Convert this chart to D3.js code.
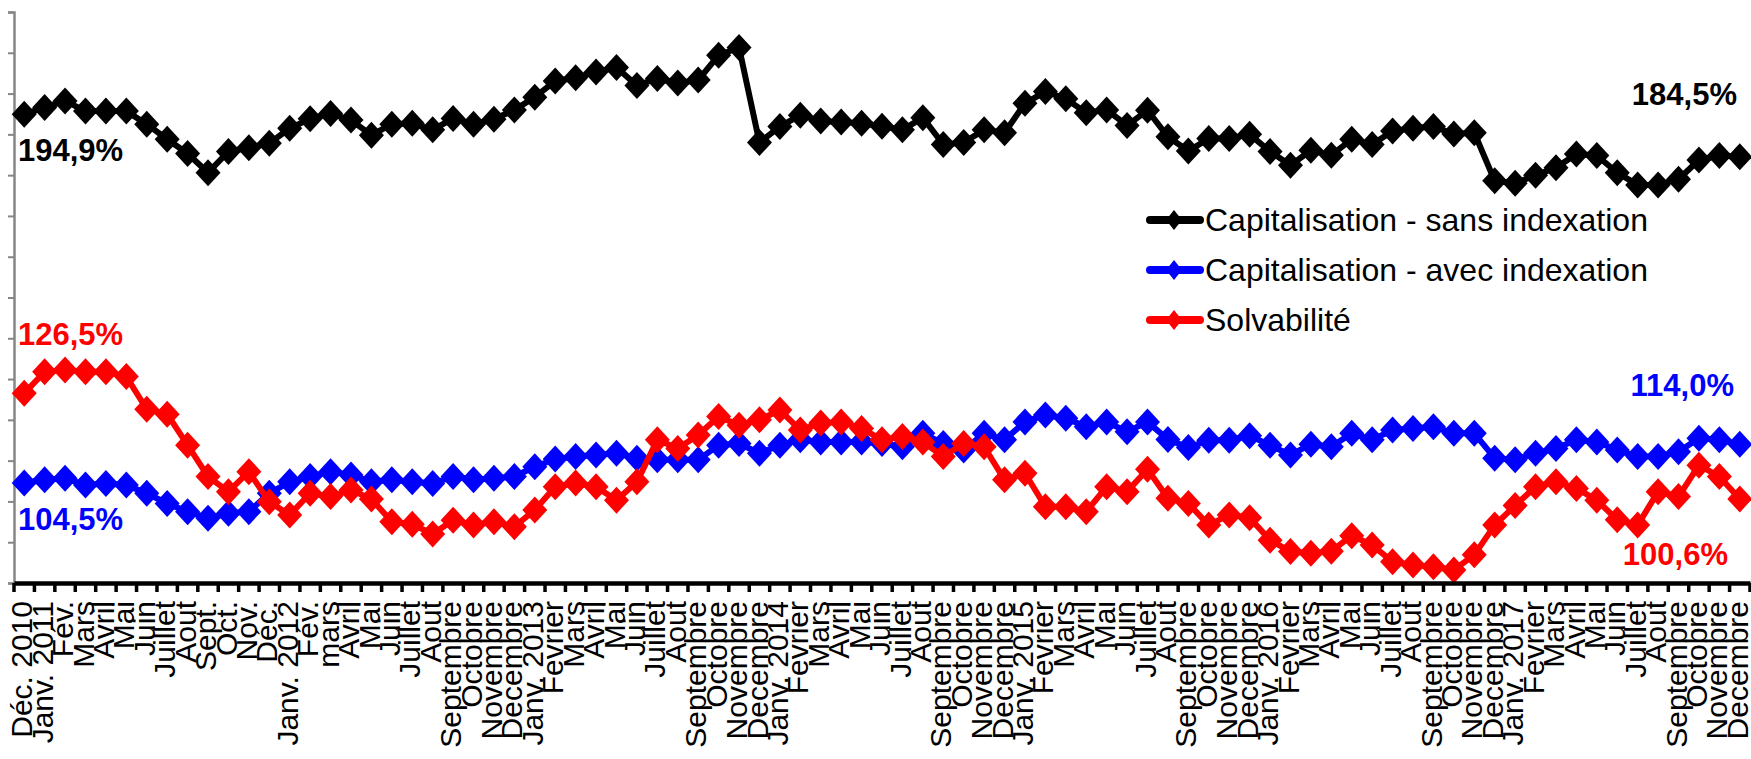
<!DOCTYPE html>
<html>
<head>
<meta charset="utf-8">
<script src="https://cdn.jsdelivr.net/npm/d3@7"></script>
<style>
  html, body { margin: 0; padding: 0; background: #fff; }
  svg { display: block; }
  text { font-family: "Liberation Sans", Arial, sans-serif; }
</style>
</head>
<body>
<svg id="chart" width="1751" height="759"></svg>
<script>
// ---- Data ----
const categories = [
  "Déc. 2010","Janv. 2011","Fév.","Mars","Avril","Mai","Juin","Juillet","Aout","Sept.","Oct.","Nov.","Déc.",
  "Janv. 2012","Fév.","mars","Avril","Mai","Juin","Juillet","Aout","Septembre","Octobre","Novembre","Decembre",
  "Janv. 2013","Fevrier","Mars","Avril","Mai","Juin","Juillet","Aout","Septembre","Octobre","Novembre","Decembre",
  "Janv. 2014","Fevrier","Mars","Avril","Mai","Juin","Juillet","Aout","Septembre","Octobre","Novembre","Decembre",
  "Janv. 2015","Fevrier","Mars","Avril","Mai","Juin","Juillet","Aout","Septembre","Octobre","Novembre","Decembre",
  "Janv. 2016","Fevrier","Mars","Avril","Mai","Juin","Juillet","Aout","Septembre","Octobre","Novembre","Decembre",
  "Janv. 2017","Fevrier","Mars","Avril","Mai","Juin","Juillet","Aout","Septembre","Octobre","Novembre","Decembre"
];

const capSansIndexation = [
  194.9,196.6,198.2,195.7,195.7,195.7,192.5,188.8,185.3,180.6,185.8,186.7,187.8,
  191.5,193.8,195.1,193.5,189.8,192.5,192.7,191.1,193.9,192.5,193.7,196.0,
  199.1,203.1,203.9,205.3,206.4,202.0,203.7,202.6,203.3,209.4,211.3,188.0,
  191.9,194.7,193.3,193.0,192.7,192.0,191.1,194.1,187.5,188.0,191.1,190.4,
  197.6,200.5,198.7,195.3,196.0,192.2,195.9,189.4,185.9,189.0,189.0,190.0,
  185.8,182.4,186.1,184.9,188.8,187.5,190.8,191.5,191.9,190.1,190.4,178.6,
  178.0,180.0,181.8,185.2,184.8,180.6,177.6,177.6,179.0,183.7,184.8,184.5
];

const capAvecIndexation = [
  104.5,105.3,105.7,104.0,104.4,104.0,102.0,99.5,97.5,95.9,97.1,97.5,102.0,
  104.8,106.1,107.3,106.5,104.8,105.3,104.8,104.4,106.1,105.3,105.7,106.1,
  108.5,110.4,111.0,111.4,111.8,110.6,110.2,110.2,110.2,113.8,114.2,111.8,
  113.8,115.1,114.6,114.6,114.6,114.2,113.4,116.7,114.2,112.6,116.7,115.1,
  119.5,121.2,120.4,118.3,119.5,117.1,119.5,115.2,113.2,115.0,115.0,116.1,
  113.8,111.4,114.0,113.4,116.7,115.1,117.5,117.9,118.3,116.7,116.7,110.6,
  110.2,111.8,113.0,115.1,114.6,112.6,111.0,111.0,112.2,115.5,115.1,114.0
];

const solvabilite = [
  126.5,131.8,132.2,131.8,131.8,130.6,122.6,121.4,113.8,106.1,102.4,107.3,99.9,
  96.7,102.0,101.2,102.8,100.6,95.0,94.4,92.0,95.4,94.2,95.0,93.8,
  97.9,103.6,104.5,103.6,100.3,104.8,115.1,113.0,116.3,120.8,118.7,120.0,
  122.4,117.5,119.2,119.5,117.9,115.1,115.9,114.6,111.0,114.2,113.4,105.3,
  106.9,98.7,98.7,97.5,103.6,102.4,107.9,100.8,99.5,94.2,96.7,96.0,
  90.5,87.7,87.3,87.8,91.6,89.3,85.2,84.4,84.0,83.2,86.9,94.2,
  99.0,103.6,104.8,103.2,100.3,95.5,94.2,102.4,101.2,108.9,106.1,100.6
];

const seriesNames = ["Capitalisation - sans indexation", "Capitalisation - avec indexation", "Solvabilité"];
const seriesColors = ["#000000", "#0000ff", "#ff0000"];
const yTicks = [80,90,100,110,120,130,140,150,160,170,180,190,200,210,220];

// ---- Layout ----
const svg = d3.select("#chart");
const x0 = 14, x1 = 1750, yTop = 12, yBot = 583;

const x = d3.scaleBand().domain(d3.range(categories.length)).range([x0, x1]).padding(0);
const y = d3.scaleLinear().domain([80, 220]).range([yBot, yTop]);

const fmt = v => d3.format(".1f")(v).replace(".", ",") + "%";

// Y axis (gray, no labels)
const yAxis = d3.axisLeft(y).tickValues(yTicks).tickSize(6).tickFormat("");
const gy = svg.append("g").attr("transform", `translate(${x0},0)`).call(yAxis);
gy.select(".domain").attr("stroke", "#868686").attr("stroke-width", 2.5);
gy.selectAll(".tick line").attr("stroke", "#868686").attr("stroke-width", 2);

// Series
const allSeries = [capSansIndexation, capAvecIndexation, solvabilite];
const line = d3.line().x((d, i) => x(i) + x.bandwidth() / 2).y(d => y(d));
const diamond = (w, h) => `M0,${-h}L${w},0L0,${h}L${-w},0Z`;

allSeries.forEach((vals, si) => {
  const g = svg.append("g");
  g.append("path").datum(vals)
    .attr("d", line)
    .attr("fill", "none")
    .attr("stroke", seriesColors[si])
    .attr("stroke-width", 6)
    .attr("stroke-linejoin", "round");
  g.selectAll("path.m").data(vals).join("path")
    .attr("class", "m")
    .attr("d", diamond(12.5, 13.5))
    .attr("transform", (d, i) => `translate(${x(i) + x.bandwidth() / 2},${y(d)})`)
    .attr("fill", seriesColors[si]);
});

// X axis
const xAxis = d3.axisBottom(x).tickSize(0).tickFormat(i => categories[i]);
const gx = svg.append("g").attr("transform", `translate(0,${yBot})`).call(xAxis);
gx.select(".domain").attr("stroke", "#000").attr("stroke-width", 4.5);
gx.selectAll(".tick text")
  .attr("font-size", 30)
  .attr("fill", "#000")
  .attr("font-family", "'Liberation Sans', Arial, sans-serif")
  .attr("text-anchor", "end")
  .attr("transform", "rotate(-90)")
  .attr("x", -18)
  .attr("y", 0)
  .attr("dy", "0.27em");
// category boundary ticks
gx.selectAll("line.bt").data(d3.range(categories.length + 1)).join("line")
  .attr("class", "bt")
  .attr("x1", i => x0 + i * x.bandwidth())
  .attr("x2", i => x0 + i * x.bandwidth())
  .attr("y1", 0).attr("y2", 9)
  .attr("stroke", "#000").attr("stroke-width", 3.5);

// Data labels (first and last values)
const last = categories.length - 1;
const labelSpecs = [
  { v: capSansIndexation[0], color: seriesColors[0], x: 18, y: 161, anchor: "start" },
  { v: solvabilite[0], color: seriesColors[2], x: 18, y: 345, anchor: "start" },
  { v: capAvecIndexation[0], color: seriesColors[1], x: 18, y: 530, anchor: "start" },
  { v: capSansIndexation[last], color: seriesColors[0], x: 1737, y: 105, anchor: "end" },
  { v: capAvecIndexation[last], color: seriesColors[1], x: 1734, y: 396, anchor: "end" },
  { v: solvabilite[last], color: seriesColors[2], x: 1728, y: 565, anchor: "end" }
];
svg.append("g").selectAll("text").data(labelSpecs).join("text")
  .attr("x", d => d.x).attr("y", d => d.y)
  .attr("text-anchor", d => d.anchor)
  .attr("font-size", 31).attr("font-weight", "bold")
  .attr("fill", d => d.color)
  .text(d => fmt(d.v));

// Legend
const legend = svg.append("g");
const legRows = [220, 270, 320];
seriesNames.forEach((name, si) => {
  const gy0 = legRows[si];
  legend.append("line")
    .attr("x1", 1150).attr("x2", 1200).attr("y1", gy0).attr("y2", gy0)
    .attr("stroke", seriesColors[si]).attr("stroke-width", 8).attr("stroke-linecap", "round");
  legend.append("path")
    .attr("d", diamond(8, 10))
    .attr("transform", `translate(1174,${gy0})`)
    .attr("fill", seriesColors[si]);
  legend.append("text")
    .attr("x", 1205).attr("y", gy0).attr("dy", "0.35em")
    .attr("font-size", 32).attr("fill", "#000")
    .text(name);
});
</script>
</body>
</html>
